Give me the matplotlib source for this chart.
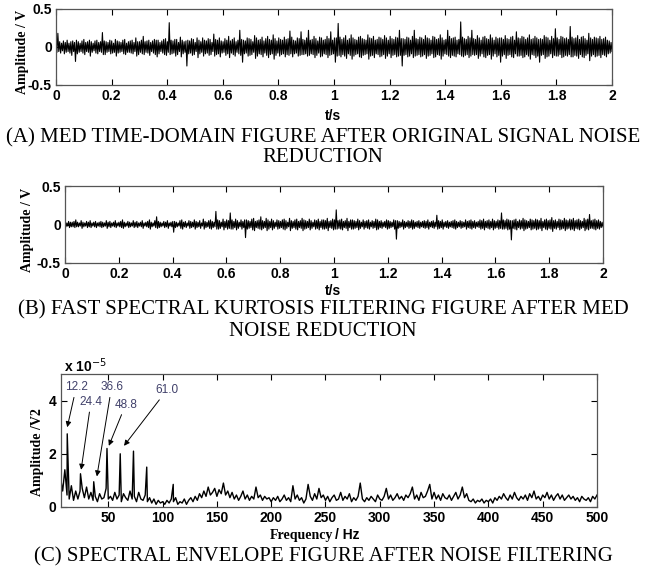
import numpy as np
import matplotlib.pyplot as plt

# (A) MED denoised signal: upper / lower swing per time bin, in 0.01 V (300 bins over 0..2 s)
upper_a = [6,18,7,5,8,6,9,5,7,8,6,9,7,5,8,10,6,7,9,7,
           5,8,9,6,7,19,8,7,6,9,8,5,10,8,7,6,9,10,5,7,
           8,9,6,12,7,7,9,14,7,8,9,6,8,10,9,9,6,8,10,11,
           7,32,9,8,10,10,6,13,9,7,8,9,8,11,10,6,12,9,7,12,
           9,8,11,10,6,17,10,9,12,8,7,11,9,14,8,10,12,7,9,22,
           10,9,8,12,11,10,7,15,12,9,10,13,8,11,14,10,9,16,11,8,
           12,10,9,13,10,11,21,13,9,8,12,11,20,10,9,12,22,9,10,14,
           11,8,13,12,9,10,14,11,20,9,12,12,31,13,10,12,15,9,11,16,
           12,10,9,13,14,11,10,9,16,12,11,14,9,10,13,12,10,15,12,9,
           14,11,10,13,12,22,11,11,10,13,12,9,14,22,11,10,13,12,10,15,
           12,11,9,14,13,10,11,16,12,9,10,22,14,11,12,13,9,10,33,13,
           11,10,14,12,22,11,10,15,12,9,13,14,11,10,16,12,9,13,11,12,
           12,10,15,11,10,13,14,9,20,12,11,14,13,10,12,16,10,11,14,12,
           10,11,10,15,13,12,9,14,11,24,12,10,14,13,11,12,10,27,13,11,
           12,15,10,13,14,11,9,18,12,10,13,12,11,14,10,11,13,9,8,6]
lower_a = [-7,-6,-8,-5,-9,-7,-6,-8,-11,-6,-19,-9,-7,-6,-8,-10,-6,-7,-12,-7,
           -5,-8,-9,-6,-7,-10,-10,-7,-6,-9,-8,-7,-12,-8,-7,-6,-9,-10,-7,-7,
           -8,-9,-6,-12,-10,-7,-9,-10,-7,-8,-11,-6,-8,-10,-13,-9,-6,-8,-10,-11,
           -7,-10,-9,-8,-12,-10,-6,-13,-9,-7,-25,-9,-8,-11,-10,-6,-14,-9,-7,-12,
           -9,-8,-11,-10,-6,-12,-10,-9,-13,-8,-7,-11,-9,-14,-8,-10,-12,-7,-9,-11,
           -20,-9,-8,-12,-11,-10,-7,-15,-12,-9,-10,-13,-8,-11,-14,-10,-9,-16,-11,-8,
           -12,-10,-9,-13,-10,-11,-9,-13,-9,-8,-12,-11,-10,-10,-9,-12,-11,-9,-10,-14,
           -11,-8,-13,-12,-9,-10,-14,-11,-10,-9,-20,-12,-11,-13,-10,-12,-15,-9,-11,-16,
           -12,-10,-9,-13,-14,-11,-10,-9,-16,-12,-11,-14,-9,-10,-13,-12,-10,-15,-12,-9,
           -14,-11,-10,-13,-12,-11,-25,-11,-10,-13,-12,-9,-14,-12,-11,-10,-13,-12,-10,-15,
           -12,-11,-9,-14,-13,-10,-11,-16,-12,-9,-10,-12,-14,-11,-12,-13,-9,-10,-12,-13,
           -11,-10,-14,-12,-10,-11,-10,-15,-12,-9,-13,-14,-11,-10,-16,-12,-9,-13,-11,-20,
           -12,-10,-15,-11,-10,-13,-14,-9,-12,-12,-11,-14,-13,-10,-12,-16,-10,-11,-14,-12,
           -20,-11,-10,-15,-13,-12,-9,-14,-11,-12,-12,-10,-14,-13,-11,-12,-10,-13,-13,-11,
           -12,-15,-10,-13,-14,-11,-9,-18,-12,-10,-13,-12,-11,-14,-10,-11,-13,-9,-8,-6]

# (B) fast kurtogram filtered signal, same layout
upper_b = [3,2,4,3,3,4,6,3,2,5,3,2,4,3,5,2,3,4,2,3,
           4,3,2,5,3,4,2,3,5,2,3,4,6,3,2,4,3,2,5,3,
           4,2,3,5,2,3,4,6,3,2,5,10,4,3,2,4,3,5,2,3,
           4,4,3,2,5,6,3,4,2,5,4,3,6,4,3,5,2,7,4,3,
           5,6,4,3,17,6,5,3,7,4,6,5,15,6,4,7,5,3,6,4,
           6,6,5,4,7,8,4,5,6,10,5,4,8,6,4,7,5,3,6,5,
           4,6,7,5,3,8,5,4,6,7,4,5,8,6,5,4,7,5,3,6,
           5,7,4,6,6,5,8,4,5,7,6,19,5,6,7,4,5,8,4,6,
           6,5,4,7,5,3,6,4,5,6,3,5,4,7,6,4,5,3,4,6,
           5,4,3,6,5,5,4,3,6,4,3,5,4,6,5,3,4,5,3,4,
           5,4,6,3,4,5,3,12,5,4,6,3,4,5,3,4,5,6,4,3,
           5,4,3,6,4,5,6,4,5,3,4,6,5,7,4,5,6,4,7,5,
           4,6,5,15,6,5,7,6,5,5,6,7,4,6,5,8,6,5,4,7,
           6,5,7,6,5,8,4,6,7,5,6,9,5,6,4,7,6,5,8,6,
           5,7,6,8,5,6,7,5,4,8,6,7,13,5,6,7,5,6,4,3]
lower_b = [-3,-2,-4,-3,-3,-4,-3,-3,-2,-5,-3,-2,-4,-3,-4,-2,-3,-4,-2,-3,
           -4,-3,-2,-5,-3,-4,-2,-3,-4,-2,-3,-4,-5,-3,-2,-4,-3,-2,-4,-3,
           -4,-2,-3,-5,-2,-3,-4,-6,-3,-2,-4,-5,-4,-3,-2,-4,-3,-5,-2,-3,
           -10,-4,-3,-2,-5,-6,-3,-4,-2,-5,-4,-3,-6,-4,-3,-5,-2,-6,-4,-3,
           -5,-6,-4,-3,-6,-6,-5,-3,-7,-4,-6,-5,-6,-6,-4,-7,-5,-3,-6,-4,
           -17,-6,-5,-4,-7,-8,-4,-5,-6,-7,-5,-4,-8,-6,-4,-7,-5,-3,-6,-5,
           -4,-6,-7,-5,-3,-8,-5,-4,-6,-7,-4,-5,-8,-6,-5,-4,-7,-5,-3,-6,
           -5,-7,-4,-6,-6,-5,-8,-4,-5,-7,-6,-6,-5,-6,-7,-4,-5,-8,-4,-6,
           -6,-5,-4,-7,-5,-3,-6,-4,-5,-6,-3,-5,-4,-7,-6,-4,-5,-3,-4,-6,
           -5,-4,-3,-6,-19,-5,-4,-3,-6,-4,-3,-5,-4,-6,-5,-3,-4,-5,-3,-4,
           -5,-4,-6,-3,-4,-5,-3,-6,-5,-4,-6,-3,-4,-5,-3,-4,-5,-6,-4,-3,
           -5,-4,-3,-6,-4,-5,-6,-4,-5,-3,-4,-6,-5,-7,-4,-5,-6,-4,-7,-5,
           -4,-6,-5,-6,-6,-5,-7,-6,-20,-5,-6,-7,-4,-6,-5,-8,-6,-5,-4,-7,
           -6,-5,-7,-6,-5,-8,-4,-6,-7,-5,-6,-9,-5,-6,-4,-7,-6,-5,-8,-6,
           -5,-7,-6,-8,-5,-6,-7,-5,-4,-8,-6,-7,-5,-5,-6,-7,-5,-6,-4,-3]

# (C) envelope spectrum background, 6..500 Hz every 2 Hz, in 0.01e-5 V^2
env_base = [110,60,140,45,30,80,25,60,30,60,70,35,75,30,55,25,40,20,50,30,35,70,30,
            40,25,55,30,45,20,50,35,25,60,30,40,20,55,30,25,45,20,35,15,30,10,25,15,20,
            10,25,15,30,20,35,10,20,15,30,10,25,35,20,40,25,50,35,60,40,75,45,55,70,40,
            65,50,90,45,60,35,55,30,45,25,40,60,30,45,25,40,30,75,35,45,25,40,30,35,20,
            35,25,40,20,30,45,25,35,20,80,30,45,25,35,15,30,85,40,25,50,30,70,35,45,25,
            40,20,35,45,25,30,55,25,40,30,50,20,35,25,40,90,30,20,35,25,40,30,20,45,30,
            25,40,70,30,45,25,35,50,30,40,25,45,35,50,75,30,45,25,55,35,40,60,85,30,55,
            30,45,25,50,35,30,45,25,40,55,30,45,75,35,50,25,20,30,15,25,20,30,15,25,20,
            30,15,35,25,40,30,50,35,25,45,30,55,35,25,40,30,45,25,50,35,60,30,40,25,45,
            35,55,30,45,25,40,50,30,45,25,35,45,30,40,25,35,20,40,30,25,35,20,40,30,45]
env_freq = np.arange(6, 501, 2)

# fault characteristic peaks (x 1e-5)
peak_freq = [12.2, 24.4, 36.6, 48.8, 61.0, 73.2, 85.4, 109.8]
peak_amp = [2.75, 1.25, 0.95, 2.2, 2.0, 2.1, 1.5, 0.85]
peak_labels = ['12.2', '24.4', '36.6', '48.8', '61.0']
label_pos = [(20.5, 4.5), (34, 3.95), (53, 4.5), (66, 3.85), (104, 4.4)]
arrow_tip = [(12.2, 3.0), (25, 1.4), (39.5, 1.15), (50.5, 2.3), (64.5, 2.3)]

captions = ['(A) MED TIME-DOMAIN FIGURE AFTER ORIGINAL SIGNAL NOISE', 'REDUCTION',
            '(B) FAST SPECTRAL KURTOSIS FILTERING FIGURE AFTER MED', 'NOISE REDUCTION',
            '(C) SPECTRAL ENVELOPE FIGURE AFTER NOISE FILTERING']
t_ticks = ['0', '0.2', '0.4', '0.6', '0.8', '1', '1.2', '1.4', '1.6', '1.8', '2']

sans = ['Liberation Sans', 'DejaVu Sans']
serif = ['Liberation Serif', 'DejaVu Serif']
W, H = 646, 573

fig = plt.figure(figsize=(6.46, 5.73), dpi=100)


def box(l, t, r, b):
    return fig.add_axes([l/W, 1-b/H, (r-l)/W, (b-t)/H])


def style(ax):
    ax.tick_params(direction='in', top=True, right=True, length=4, width=0.8,
                   labelsize=10, pad=3)
    for lab in ax.get_xticklabels() + ax.get_yticklabels():
        lab.set_fontfamily(sans)
        lab.set_fontweight('bold')
    for s in ax.spines.values():
        s.set_color('#555555')
        s.set_linewidth(0.9)


def ftext(x, y, s, **kw):
    fig.text(x/W, 1-y/H, s, ha=kw.pop('ha', 'center'), va='center', **kw)


def time_panel(ax, up, lo):
    y = np.column_stack([up, lo]).ravel()/100
    t = np.linspace(0, 2, len(y))
    ax.plot(t, y, color='black', lw=0.8)
    ax.set_xlim(0, 2)
    ax.set_ylim(-0.5, 0.5)
    ax.set_xticks(np.arange(0, 2.01, 0.2))
    ax.set_xticklabels(t_ticks)
    ax.set_yticks([-0.5, 0, 0.5])
    ax.set_yticklabels(['-0.5', '0', '0.5'])
    style(ax)


# panel A
ax1 = box(56, 9, 612, 85)
time_panel(ax1, upper_a, lower_a)
ftext(23, 52, 'Amplitude / V', rotation=90, family=serif, weight='bold', fontsize=10)
ftext(333, 116, 't/s', family=sans, weight='bold', fontsize=10)
ftext(323, 138, captions[0], family=serif, fontsize=15)
ftext(323, 157, captions[1], family=serif, fontsize=15)

# panel B
ax2 = box(65, 186, 603, 263)
time_panel(ax2, upper_b, lower_b)
ftext(28, 230, 'Amplitude / V', rotation=90, family=serif, weight='bold', fontsize=10)
ftext(333, 291, 't/s', family=sans, weight='bold', fontsize=10)
ftext(323, 310, captions[2], family=serif, fontsize=15)
ftext(323, 332, captions[3], family=serif, fontsize=15)

# panel C
f_all = np.concatenate([env_freq, peak_freq])
a_all = np.concatenate([np.array(env_base)/100, peak_amp])
order = np.argsort(f_all)
ax3 = box(60.5, 374, 597, 507)
ax3.plot(f_all[order], a_all[order], color='black', lw=1.0)
ax3.set_xlim(6, 500)
ax3.set_ylim(0, 5)
ax3.set_xticks(np.arange(50, 501, 50))
ax3.set_yticks([0, 2, 4])
style(ax3)
for lab, pos, tip in zip(peak_labels, label_pos, arrow_tip):
    ax3.annotate(lab, xy=tip, xytext=pos, ha='center', va='center', fontsize=8.5,
                 color='#40406a', family=sans,
                 arrowprops=dict(arrowstyle='-|>', color='black', lw=0.7,
                                 mutation_scale=8, shrinkA=1, shrinkB=0))
ftext(64, 366, r'x 10$^{-5}$', ha='left', family=sans, weight='bold', fontsize=10)
ftext(38, 452, 'Amplitude /V2', rotation=90, family=serif, weight='bold', fontsize=10)
ftext(333, 535, 'Frequency', ha='right', family=serif, weight='bold', fontsize=10)
ftext(335, 535, '/ Hz', ha='left', family=sans, weight='bold', fontsize=10)
ftext(323, 557, captions[4], family=serif, fontsize=15)

fig.savefig('out.png', dpi=100)
